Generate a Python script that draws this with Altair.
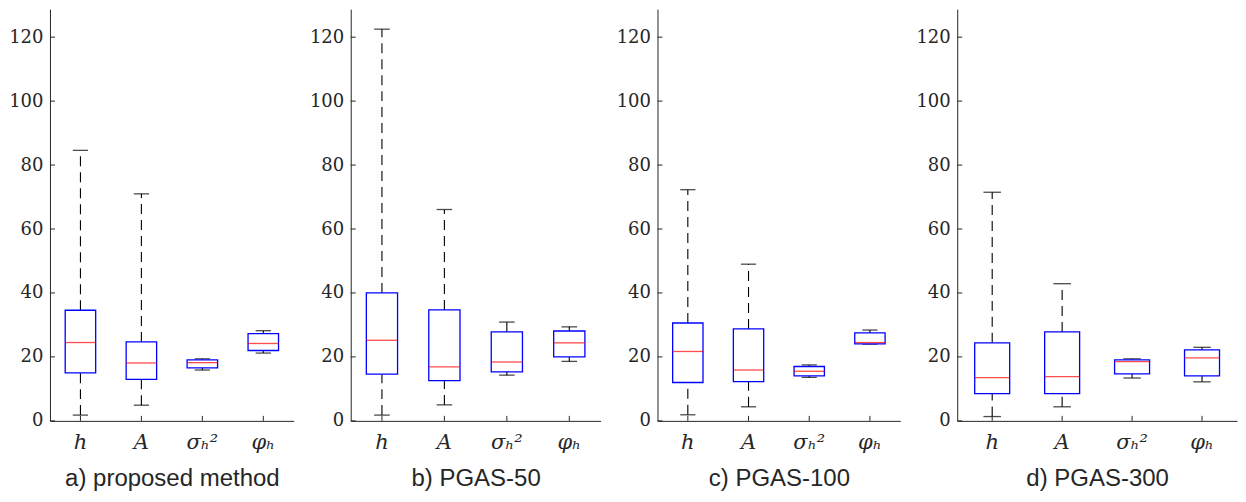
import altair as alt
import pandas as pd

params = ["h", "A", "σₕ²", "φₕ"]
methods = ["a) proposed method", "b) PGAS-50", "c) PGAS-100", "d) PGAS-300"]

# per method: lower whisker, q1, median, q3, upper whisker (for h, A, sigma^2_h, phi_h)
lo = {
    "a) proposed method": [1.8, 4.9, 15.9, 21.2],
    "b) PGAS-50": [1.8, 5.0, 14.3, 18.6],
    "c) PGAS-100": [1.9, 4.4, 13.6, 24.0],
    "d) PGAS-300": [1.35, 4.4, 13.4, 12.2],
}
q1 = {
    "a) proposed method": [15.0, 13.0, 16.6, 22.0],
    "b) PGAS-50": [14.6, 12.6, 15.3, 20.0],
    "c) PGAS-100": [12.0, 12.3, 14.1, 24.1],
    "d) PGAS-300": [8.5, 8.5, 14.7, 14.1],
}
med = {
    "a) proposed method": [24.5, 18.1, 18.2, 24.2],
    "b) PGAS-50": [25.2, 16.9, 18.4, 24.4],
    "c) PGAS-100": [21.7, 15.9, 15.5, 24.5],
    "d) PGAS-300": [13.5, 13.85, 18.5, 19.7],
}
q3 = {
    "a) proposed method": [34.6, 24.7, 19.1, 27.3],
    "b) PGAS-50": [40.0, 34.7, 27.8, 28.1],
    "c) PGAS-100": [30.6, 28.75, 17.0, 27.5],
    "d) PGAS-300": [24.4, 27.8, 19.1, 22.2],
}
hi = {
    "a) proposed method": [84.6, 71.0, 19.4, 28.2],
    "b) PGAS-50": [122.5, 66.1, 30.9, 29.4],
    "c) PGAS-100": [72.3, 49.0, 17.5, 28.4],
    "d) PGAS-300": [71.5, 42.9, 19.4, 23.0],
}
y_ticks = [0, 20, 40, 60, 80, 100, 120]

panel_widths = [244, 250, 243, 280]
H = 412
AX = "#262626"
SERIF = "DejaVu Serif"
SANS = "Liberation Sans"

rows = []
for m in methods:
    for i, p in enumerate(params):
        rows.append(dict(method=m, param=p, lo=lo[m][i], q1=q1[m][i], med=med[m][i],
                         q3=q3[m][i], hi=hi[m][i]))
df = pd.DataFrame(rows)
ticks_df = pd.DataFrame({"v": y_ticks})

yscale = alt.Scale(domain=[0, 128.75], nice=False, zero=False)
yaxis = alt.Axis(values=y_ticks, grid=False, ticks=False, domainColor=AX, domainWidth=1,
                 labelColor=AX, labelPadding=7, title=None)


def Y(f):
    return alt.Y(f"{f}:Q", scale=yscale, axis=yaxis, title=None)


def panel(m, w):
    band = w / 4.0
    xaxis = alt.Axis(ticks=False, domainColor=AX, domainWidth=1, labelAngle=0,
                     labelColor=AX, labelPadding=11, title=m, titleFont=SANS,
                     titleFontSize=24, titleFontWeight="normal", titleColor=AX, titlePadding=14)
    X = alt.X("param:N", sort=params, scale=alt.Scale(paddingInner=0, paddingOuter=0),
              axis=xaxis)
    base = alt.Chart(df[df.method == m])
    w_up = base.mark_rule(color="black", strokeWidth=1.1, strokeDash=[10, 6]).encode(
        x=X, y=Y("q3"), y2="hi:Q")
    w_lo = base.mark_rule(color="black", strokeWidth=1.1, strokeDash=[10, 6]).encode(
        x=X, y=Y("lo"), y2="q1:Q")
    cap_hi = base.mark_tick(color="black", size=band * 0.25, thickness=1.3).encode(x=X, y=Y("hi"))
    cap_lo = base.mark_tick(color="black", size=band * 0.25, thickness=1.3).encode(x=X, y=Y("lo"))
    box = base.mark_bar(width=alt.RelativeBandSize(0.5), fill="white", stroke="#0000ff",
                        strokeWidth=1.3).encode(x=X, y=Y("q1"), y2="q3:Q")
    median = base.mark_tick(color="#ff0000", size=band * 0.5, thickness=1.3).encode(x=X, y=Y("med"))
    xt = base.mark_rule(color=AX, strokeWidth=1).encode(x=X, y=alt.value(H), y2=alt.value(H - 5))
    yt = alt.Chart(ticks_df).mark_rule(color=AX, strokeWidth=1).encode(
        y=Y("v"), x=alt.value(0), x2=alt.value(5))
    return alt.layer(w_up, w_lo, cap_hi, cap_lo, box, median, xt, yt).properties(
        width=w, height=H)


p = [panel(m, w) for m, w in zip(methods, panel_widths)]
chart = alt.hconcat(*p, spacing=57, bounds="flush").properties(
    padding={"left": 0, "top": 0, "right": 0, "bottom": 0}
).configure_view(
    stroke="transparent"
).configure_axisY(
    labelFont=SERIF, labelFontSize=18
).configure_axisX(
    labelFont=SERIF, labelFontStyle="italic", labelFontSize=21
)

chart.save("out.html", embed_options={"renderer": "svg", "actions": False})
